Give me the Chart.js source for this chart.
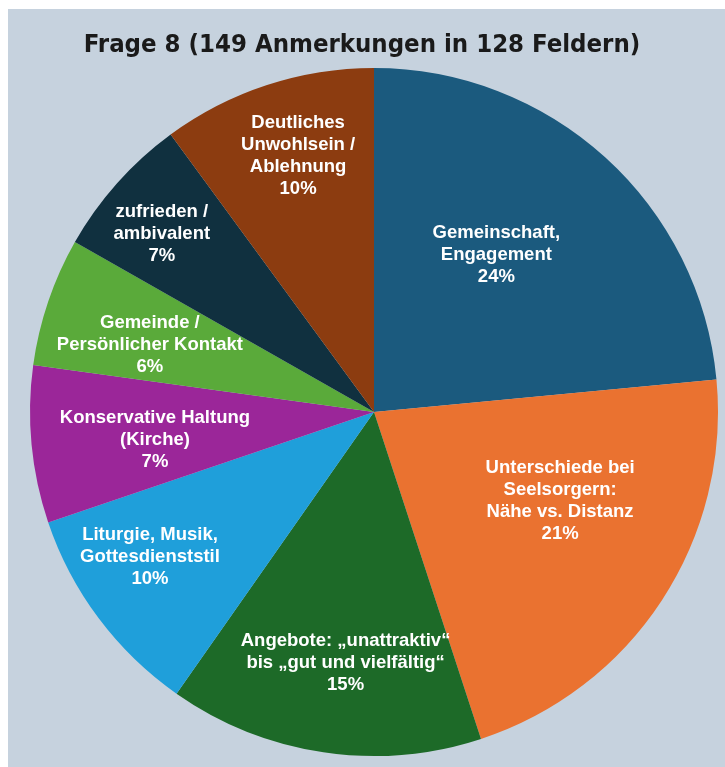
<!DOCTYPE html>
<html>
<head>
<meta charset="utf-8">
<script src="https://cdn.jsdelivr.net/npm/chart.js@4"></script>
<style>
html,body{margin:0;padding:0;background:#ffffff;}
#wrap{position:relative;width:725px;height:767px;}
</style>
</head>
<body>
<div id="wrap"><canvas id="c"></canvas></div>
<script>
// ---- data ----
const titleText = "Frage 8 (149 Anmerkungen in 128 Feldern)";
const categories = [
  ["Gemeinschaft,", "Engagement"],
  ["Unterschiede bei", "Seelsorgern:", "Nähe vs. Distanz"],
  ["Angebote: „unattraktiv“", "bis „gut und vielfältig“"],
  ["Liturgie, Musik,", "Gottesdienststil"],
  ["Konservative Haltung", "(Kirche)"],
  ["Gemeinde /", "Persönlicher Kontakt"],
  ["zufrieden /", "ambivalent"],
  ["Deutliches", "Unwohlsein /", "Ablehnung"]
];
const counts = [35, 32, 22, 15, 11, 9, 10, 15];
const percentLabels = ["24%", "21%", "15%", "10%", "7%", "6%", "7%", "10%"];
const colors = ["#1b5a7e", "#ea7230", "#1d6a28", "#1f9fda", "#9b2699", "#5aaa3a", "#10303f", "#8c3c10"];

// ---- label placement (style) ----
const labelRadius = [0.578, 0.60, 0.735, 0.776, 0.642, 0.680, 0.805, 0.776];
const labelAngleOffset = [-4.3, -7.6, -2.0, 3.9, -1.9, -2.1, -1.7, 1.6];

const bgPlugin = {
  id: 'bg',
  beforeDraw(chart) {
    const ctx = chart.ctx;
    ctx.save();
    ctx.fillStyle = '#ffffff';
    ctx.fillRect(0, 0, chart.width, chart.height);
    ctx.fillStyle = '#c6d2de';
    ctx.fillRect(8, 9, chart.width - 8, chart.height - 9);
    ctx.restore();
  }
};

const titlePlugin = {
  id: 'titleText',
  afterDraw(chart) {
    const ctx = chart.ctx;
    ctx.save();
    ctx.fillStyle = '#1a1a1a';
    ctx.textAlign = 'center';
    ctx.textBaseline = 'middle';
    ctx.font = 'bold 25.5px "Liberation Sans Narrow", "DejaVu Sans Condensed", "Liberation Sans", sans-serif';
    ctx.fillText(titleText, 362, 45);
    ctx.restore();
  }
};

const labelPlugin = {
  id: 'sliceLabels',
  afterDatasetsDraw(chart) {
    const ctx = chart.ctx;
    const meta = chart.getDatasetMeta(0);
    ctx.save();
    ctx.fillStyle = '#ffffff';
    ctx.textAlign = 'center';
    ctx.textBaseline = 'middle';
    ctx.font = 'bold 18.5px "Liberation Sans", Arial, sans-serif';
    const lh = 22;
    meta.data.forEach((arc, i) => {
      const p = arc.getProps(['x', 'y', 'startAngle', 'endAngle', 'outerRadius'], true);
      const a = (p.startAngle + p.endAngle) / 2 + labelAngleOffset[i] * Math.PI / 180;
      const r = p.outerRadius * labelRadius[i];
      const cx = p.x + Math.cos(a) * r;
      const cy = p.y + Math.sin(a) * r;
      const lines = categories[i].concat([percentLabels[i]]);
      const y0 = cy - (lines.length - 1) * lh / 2;
      lines.forEach((t, k) => ctx.fillText(t, cx, y0 + k * lh));
    });
    ctx.restore();
  }
};

new Chart(document.getElementById('c'), {
  type: 'pie',
  data: {
    labels: categories.map(l => l.join(' ')),
    datasets: [{
      data: counts,
      backgroundColor: colors,
      borderWidth: 0,
      hoverOffset: 0
    }]
  },
  options: {
    responsive: true,
    maintainAspectRatio: false,
    animation: false,
    layout: { padding: { left: 30, right: 7, top: 68, bottom: 11 } },
    plugins: {
      legend: { display: false },
      tooltip: { enabled: false },
      title: { display: false }
    }
  },
  plugins: [bgPlugin, labelPlugin, titlePlugin]
});
</script>
</body>
</html>
